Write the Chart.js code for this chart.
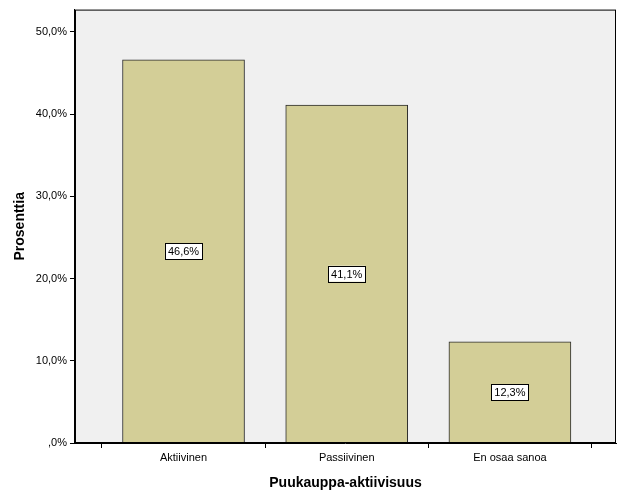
<!DOCTYPE html>
<html><head><meta charset="utf-8">
<script src="https://cdn.jsdelivr.net/npm/chart.js@4/dist/chart.umd.min.js"></script>
<style>html,body{margin:0;padding:0;background:#fff}#w{width:626px;height:501px}</style>
</head><body><div id="w"><canvas id="c"></canvas></div>
<script>
const categories = ["Aktiivinen","Passiivinen","En osaa sanoa"];
const values = [46.6, 41.1, 12.3];
const yTicks = [0,10,20,30,40,50];
const fmt = v => (v===0 ? "" : v.toFixed(1).split(".")[0]) + "," + v.toFixed(1).split(".")[1] + "%";
const bgPlugin = {
  id:'bg',
  beforeDraw(ch){const a=ch.chartArea,g=ch.ctx;g.save();g.fillStyle='#f0f0f0';g.fillRect(a.left,a.top,a.right-a.left,a.bottom-a.top);g.restore();},
  afterDraw(ch){const a=ch.chartArea,g=ch.ctx;g.save();g.strokeStyle='#000';g.lineWidth=1;g.strokeRect(a.left+0.5,a.top+0.5,a.right-a.left-1,a.bottom-a.top-1);
    g.font='11px Arial, "Liberation Sans"';g.textAlign='center';g.textBaseline='middle';
    ch.getDatasetMeta(0).data.forEach((b,i)=>{const t=fmt(values[i]);const y=(b.y+b.base)/2;const w=g.measureText(t).width+6;
      g.fillStyle='#fff';g.fillRect(b.x-w/2,y-8,w,16);g.strokeRect(Math.round(b.x-w/2)+0.5,Math.round(y-8)+0.5,Math.round(w),16);
      g.fillStyle='#000';g.fillText(t,b.x,y+1);});
    g.restore();}
};
new Chart(document.getElementById('c'),{
  type:'bar',
  data:{datasets:[{data:values.map((v,i)=>({x:i,y:v})),backgroundColor:'#d3ce97',borderColor:'#2b2b2b',borderWidth:1,barThickness:122}]},
  options:{responsive:true,maintainAspectRatio:false,animation:false,
    layout:{padding:{top:0,right:10,left:8,bottom:5}},
    plugins:{legend:{display:false},tooltip:{enabled:false}},
    scales:{
      x:{type:'linear',min:-0.665,max:2.65,offset:false,
         afterBuildTicks(ax){ax.ticks=categories.map((c,i)=>({value:i}));},
         grid:{display:true,drawOnChartArea:false,tickLength:5,color:'#000'},border:{color:'#000',width:1},
         ticks:{color:'#000',callback:v=>categories[v],font:{size:11,family:'Arial, "Liberation Sans"'}},
         title:{display:true,text:'Puukauppa-aktiivisuus',color:'#000',font:{size:14,weight:'bold',family:'Arial, "Liberation Sans"'},padding:{top:8}}},
      y:{min:0,max:52.7,afterBuildTicks(ax){ax.ticks=yTicks.map(v=>({value:v}));},
         grid:{display:true,drawOnChartArea:false,tickLength:5,color:'#000'},border:{color:'#000'},
         ticks:{color:'#000',callback:v=>fmt(v),font:{size:11,family:'Arial, "Liberation Sans"'}},
         title:{display:true,text:'Prosenttia',color:'#000',font:{size:14,weight:'bold',family:'Arial, "Liberation Sans"'}}}
    }},
  plugins:[bgPlugin]
});
</script></body></html>
